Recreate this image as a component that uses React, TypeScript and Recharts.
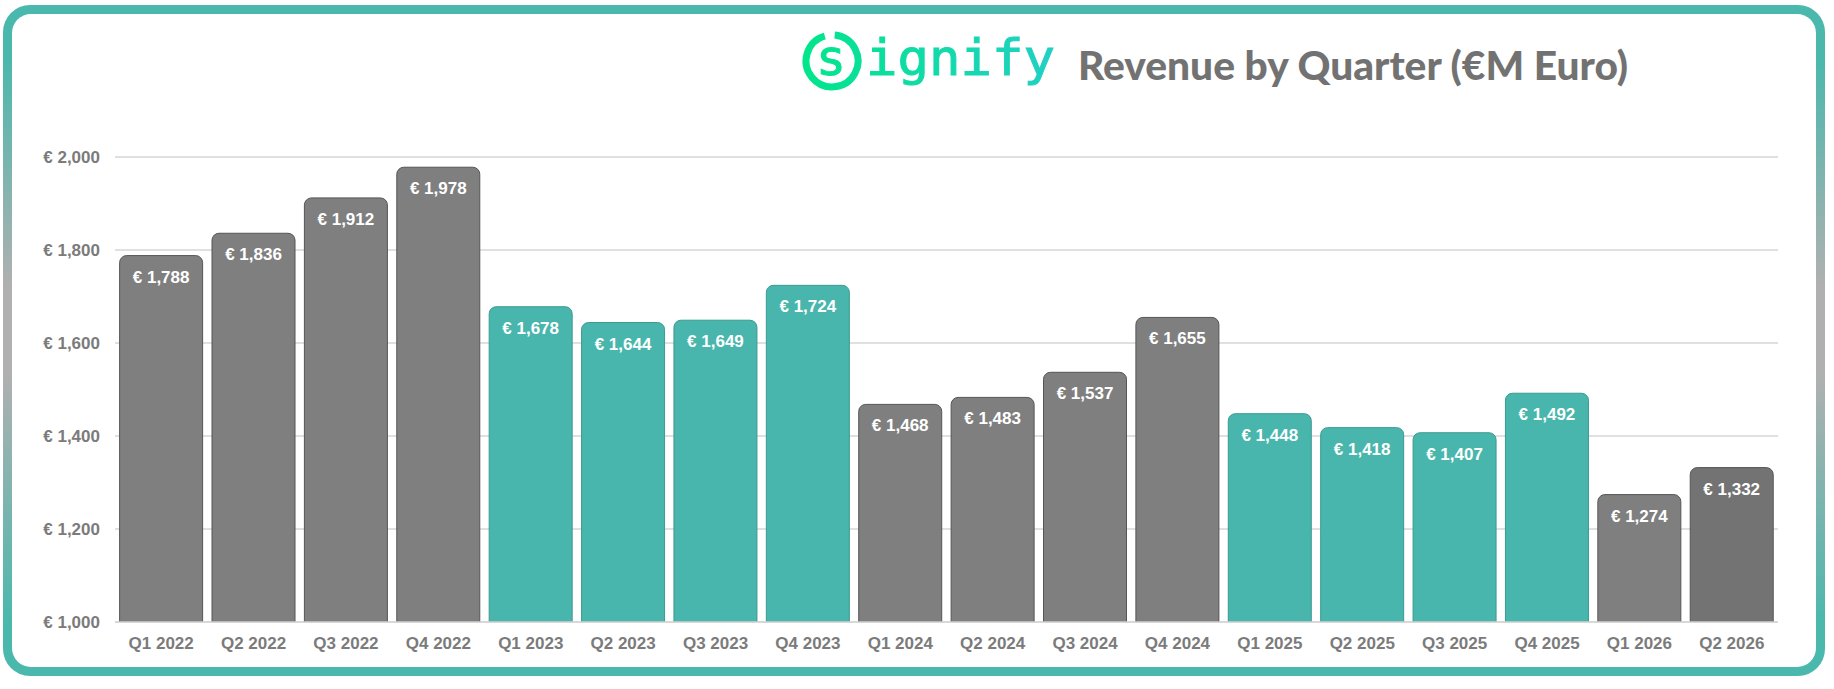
import React from 'react';
import { BarChart, Bar, XAxis, YAxis, CartesianGrid, Cell, LabelList } from 'recharts';

const quarters = ['Q1 2022', 'Q2 2022', 'Q3 2022', 'Q4 2022', 'Q1 2023', 'Q2 2023', 'Q3 2023', 'Q4 2023', 'Q1 2024', 'Q2 2024', 'Q3 2024', 'Q4 2024', 'Q1 2025', 'Q2 2025', 'Q3 2025', 'Q4 2025', 'Q1 2026', 'Q2 2026'];
const revenue = [1788, 1836, 1912, 1978, 1678, 1644, 1649, 1724, 1468, 1483, 1537, 1655, 1448, 1418, 1407, 1492, 1274, 1332];
const yTicks = [1000, 1200, 1400, 1600, 1800, 2000];

const GRAY = '#7f7f7f';
const TEAL = '#48b6ac';
const DARK = '#737373';
const barFills = [GRAY, GRAY, GRAY, GRAY, TEAL, TEAL, TEAL, TEAL, GRAY, GRAY, GRAY, GRAY, TEAL, TEAL, TEAL, TEAL, GRAY, DARK];
const strokeFor = (c: string) => (c === TEAL ? '#3a9a90' : '#555555');

const data = quarters.map((q, i) => ({ quarter: q, revenue: revenue[i] }));

const euro = (v: any) => `€ ${Number(v).toLocaleString('en-US')}`;
const FONT = '"Liberation Sans", Arial, sans-serif';

export default function App() {
  return (
    <div style={{ position: 'absolute', left: 0, top: 0, width: 1834, height: 689, background: '#fff' }}>
      <div
        style={{
          position: 'absolute',
          left: 3,
          top: 5,
          width: 1822,
          height: 671,
          borderRadius: 27,
          background: 'linear-gradient(to bottom, #4bb8ad 0%, #4bb8ad 8%, #b0b0b0 42%, #b0b0b0 55%, #4bb8ad 92%, #4bb8ad 100%)',
        }}
      >
        <div style={{ position: 'absolute', left: 9, top: 9, right: 9, bottom: 9, borderRadius: 19, background: '#fff' }} />
      </div>
      <svg width={1834} height={110} style={{ position: 'absolute', left: 0, top: 0 }}>
        <defs>
          <linearGradient id="logoGrad" x1="800" y1="0" x2="1060" y2="0" gradientUnits="userSpaceOnUse">
            <stop offset="0%" stopColor="#00e68a" />
            <stop offset="100%" stopColor="#22cfc6" />
          </linearGradient>
        </defs>
        <path d="M 834.7 35.1 A 26 26 0 1 1 824.8 36.0" fill="none" stroke="url(#logoGrad)" strokeWidth={7} />
        <text x={831} y={75} textAnchor="middle" fontFamily='"DejaVu Sans Mono", monospace' fontSize={50} fill="url(#logoGrad)" stroke="url(#logoGrad)" strokeWidth={1}>s</text>
        <text x={866} y={75} textLength={189} lengthAdjust="spacingAndGlyphs" fontFamily='"DejaVu Sans Mono", monospace' fontSize={50} fill="url(#logoGrad)" stroke="url(#logoGrad)" strokeWidth={1}>ignify</text>
        <text x={1078} y={80} textLength={550} lengthAdjust="spacingAndGlyphs" fontFamily='Lato, "Open Sans", sans-serif' fontWeight={900} fontSize={39} fill="#727272">Revenue by Quarter (€M Euro)</text>
      </svg>
      <div style={{ position: 'absolute', left: 0, top: 0 }}>
        <BarChart width={1834} height={689} data={data} margin={{ top: 157, right: 56, bottom: 37, left: 0 }} barCategoryGap="5%">
          <CartesianGrid vertical={false} stroke="#d6d6d6" strokeWidth={1.5} />
          <XAxis
            dataKey="quarter"
            height={30}
            tickLine={false}
            axisLine={{ stroke: '#d6d6d6', strokeWidth: 1.5 }}
            tickSize={0}
            tickMargin={15}
            interval={0}
            tick={{ fill: '#7b7b7b', fontSize: 17, fontWeight: 'bold', fontFamily: FONT }}
          />
          <YAxis
            width={115}
            domain={[1000, 2000]}
            ticks={yTicks}
            allowDataOverflow
            tickLine={false}
            axisLine={false}
            tickSize={0}
            tickMargin={15}
            tickFormatter={euro}
            tick={{ fill: '#7b7b7b', fontSize: 17, fontWeight: 'bold', fontFamily: FONT }}
          />
          <Bar dataKey="revenue" radius={[7, 7, 0, 0]} isAnimationActive={false} strokeWidth={1}>
            {data.map((d, i) => (
              <Cell key={d.quarter} fill={barFills[i]} stroke={strokeFor(barFills[i])} />
            ))}
            <LabelList dataKey="revenue" position="insideTop" offset={15} formatter={euro} fill="#ffffff" fontSize={17} fontWeight="bold" fontFamily={FONT} />
          </Bar>
        </BarChart>
      </div>
    </div>
  );
}
